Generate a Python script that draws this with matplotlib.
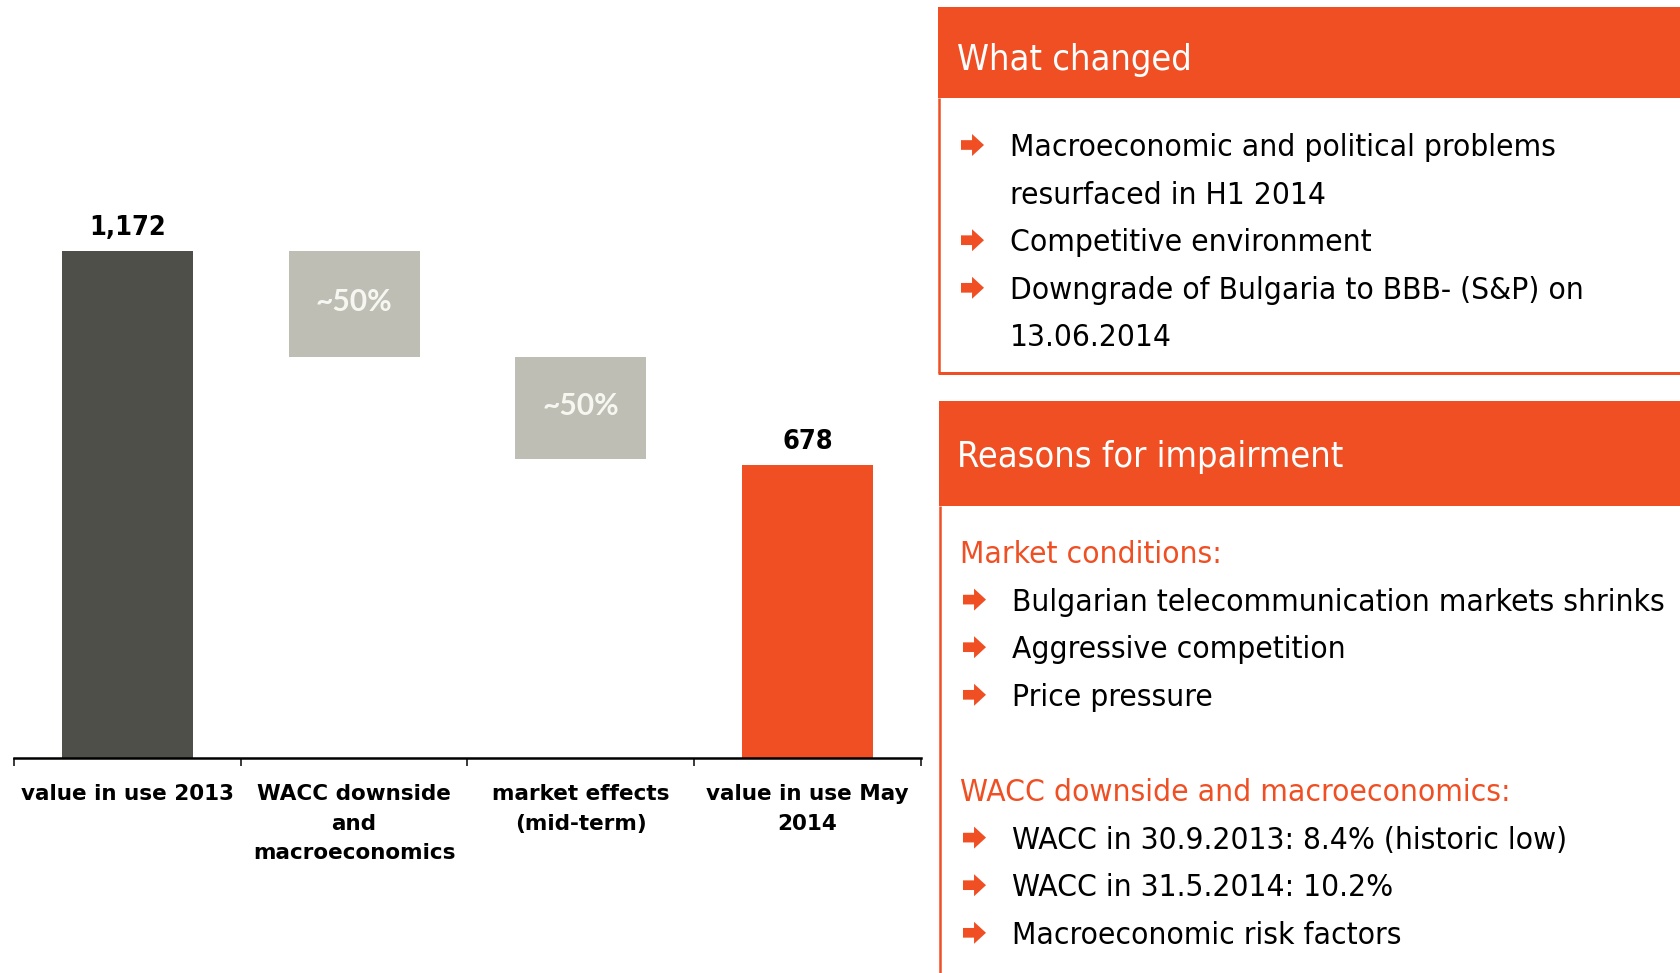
import matplotlib
matplotlib.use("Agg")
import matplotlib.pyplot as plt
from matplotlib import font_manager as fm
from matplotlib.patches import Rectangle, Polygon
from matplotlib.transforms import offset_copy

# ---------------- data ----------------
categories = ["value in use 2013", "WACC downside\nand\nmacroeconomics",
              "market effects\n(mid-term)", "value in use May\n2014"]
start_value = 1172
drops = [245, 236]
end_value = 678
start_label = "1,172"
end_label = "678"
drop_labels = ["~50%", "~50%"]

box1_title = "What changed"
box1_lines = [("bullet", "Macroeconomic and political problems"),
              ("cont", "resurfaced in H1 2014"),
              ("bullet", "Competitive environment"),
              ("bullet", "Downgrade of Bulgaria to BBB- (S&P) on"),
              ("cont", "13.06.2014")]
box2_title = "Reasons for impairment"
box2_lines = [("head", "Market conditions:"),
              ("bullet", "Bulgarian telecommunication markets shrinks"),
              ("bullet", "Aggressive competition"),
              ("bullet", "Price pressure"),
              ("blank", ""),
              ("head", "WACC downside and macroeconomics:"),
              ("bullet", "WACC in 30.9.2013: 8.4% (historic low)"),
              ("bullet", "WACC in 31.5.2014: 10.2%"),
              ("bullet", "Macroeconomic risk factors")]

# ---------------- style ----------------
W, H, DPI = 1681, 973, 100
DARK = "#4f4f4a"
GREY = "#bebeb5"
ORANGE = "#ef4f23"

has_cond = any(f.name == "DejaVu Sans" and f.stretch == "condensed"
               for f in fm.fontManager.ttflist)
cscale = 1.0 if has_cond else 0.9

def px2pt(px):
    return px * 72.0 / DPI

def cond(px, weight="normal"):
    return fm.FontProperties(family="DejaVu Sans", stretch="condensed",
                             weight=weight, size=px2pt(px * cscale))

fig = plt.figure(figsize=(W / DPI, H / DPI), dpi=DPI)
fig.patch.set_facecolor("white")

# ---------------- waterfall chart ----------------
ax_l, ax_r, ax_b, ax_t = 14, 921, 758, 251
ax = fig.add_axes([ax_l / W, 1 - ax_b / H, (ax_r - ax_l) / W, (ax_b - ax_t) / H])
ax.set_xlim(-0.5, len(categories) - 0.5)
ax.set_ylim(0, start_value)

bw = 0.577
x = list(range(len(categories)))
ax.bar(x[0], start_value, width=bw, color=DARK, zorder=2)
running = start_value
for i, d in enumerate(drops):
    ax.bar(x[i + 1], d, bottom=running - d, width=bw, color=GREY, zorder=2)
    tr = offset_copy(ax.transData, fig=fig, x=0, y=-7, units="dots")
    ax.text(x[i + 1], running - d / 2, drop_labels[i], transform=tr,
            ha="center", va="baseline", color="#f7f7f2",
            family="Lato", weight="bold", fontsize=px2pt(30), clip_on=False)
    running -= d
ax.bar(x[3], end_value, width=bw, color=ORANGE, zorder=2)

tr_up = offset_copy(ax.transData, fig=fig, x=0, y=16, units="dots")
ax.text(x[0], start_value, start_label, transform=tr_up, ha="center",
        va="baseline", fontproperties=cond(27, "bold"), color="black", clip_on=False)
ax.text(x[3], end_value, end_label, transform=tr_up, ha="center",
        va="baseline", fontproperties=cond(27, "bold"), color="black", clip_on=False)

for s in ["top", "left", "right"]:
    ax.spines[s].set_visible(False)
ax.spines["bottom"].set_linewidth(px2pt(2.5))
ax.spines["bottom"].set_color("black")
ax.set_yticks([])
ax.set_xticks([i - 0.5 for i in range(len(categories) + 1)])
ax.set_xticklabels([])
ax.tick_params(axis="x", which="major", direction="out", length=px2pt(8),
               width=px2pt(1.5), color="black")
ax.set_xticks(x, minor=True)
ax.set_xticklabels(categories, minor=True, fontweight="bold",
                   fontsize=px2pt(21.5), family="DejaVu Sans", linespacing=1.57)
ax.tick_params(axis="x", which="minor", length=0, pad=19)
ax.set_facecolor("none")

# ---------------- right panel ----------------
ov = fig.add_axes([0, 0, 1, 1])
ov.set_xlim(0, W)
ov.set_ylim(H, 0)
ov.axis("off")
ov.set_zorder(-1)

def arrow(x0, ybase, w=23, h=22):
    y0 = ybase - h
    pts = [(0, 0.28), (0.48, 0.28), (0.48, 0.0), (1.0, 0.5),
           (0.48, 1.0), (0.48, 0.72), (0, 0.72)]
    ov.add_patch(Polygon([(x0 + px * w, y0 + py * h) for px, py in pts],
                         closed=True, color=ORANGE, lw=0))

def draw_box(top, hbottom, bottom, left, title, lines, first_base,
             arrow_x, text_x, head_x, title_base):
    ov.add_patch(Rectangle((left, top), W - left + 5, hbottom - top,
                           color=ORANGE, lw=0))
    ov.plot([left + 1, left + 1], [hbottom, bottom], color=ORANGE,
            lw=px2pt(2.5), solid_capstyle="butt")
    if bottom < H:
        ov.plot([left, W + 5], [bottom, bottom], color=ORANGE,
                lw=px2pt(3), solid_capstyle="butt")
    ov.text(957, title_base, title, color="white", va="baseline", ha="left",
            fontproperties=cond(36))
    step = 47.6
    for i, (kind, txt) in enumerate(lines):
        yb = first_base + i * step
        if kind == "head":
            ov.text(head_x, yb, txt, color=ORANGE, va="baseline", ha="left",
                    fontproperties=cond(31.5))
        elif kind in ("bullet", "cont"):
            if kind == "bullet":
                arrow(arrow_x, yb)
            ov.text(text_x, yb, txt, color="black", va="baseline", ha="left",
                    fontproperties=cond(31.5))

draw_box(7, 98, 373, 938, box1_title, box1_lines, 156, 961, 1010, 960, 70)
draw_box(401, 506, H + 10, 939, box2_title, box2_lines, 563, 963, 1012, 960, 467)

fig.savefig("out.png", dpi=DPI, facecolor="white")
